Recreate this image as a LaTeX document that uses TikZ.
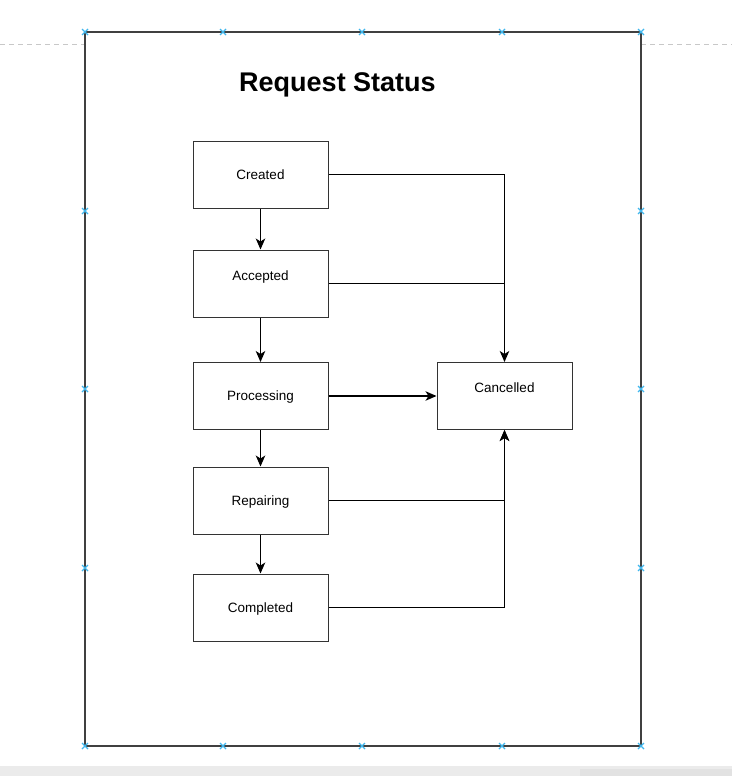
\documentclass[tikz,border=0pt]{standalone}
\usepackage{fontspec}
\setmainfont{Liberation Sans}
\usetikzlibrary{arrows.meta}
\definecolor{handle}{HTML}{3FB7EE}
\definecolor{dashgray}{HTML}{C8C8C8}
\definecolor{bargray}{HTML}{EBEBEB}
\definecolor{bargray2}{HTML}{E2E2E2}
\tikzset{
  box/.style={draw=black!80, line width=1pt, minimum width=135pt, minimum height=67pt,
    inner sep=0pt, font=\fontsize{13.5}{16}\selectfont, text height=9.7pt, text depth=0pt},
  boxhigh/.style={box, text depth=16.5pt},
  arr/.style={draw=black, line width=1.2pt, -{Stealth[length=11pt,width=9.5pt,inset=3pt]}},
  ln/.style={draw=black, line width=1.2pt},
}
\begin{document}
\begin{tikzpicture}[x=1pt,y=-1pt]
\useasboundingbox (0,0) rectangle (732,776);
\fill[white] (0,0) rectangle (732,776);
% background chrome
\draw[dashgray, line width=1pt, dash pattern=on 5pt off 4pt] (0,45) -- (85,45);
\draw[dashgray, line width=1pt, dash pattern=on 5pt off 4pt] (641,45) -- (732,45);
\fill[bargray] (0,766) rectangle (732,776);
\fill[bargray2] (580,769) rectangle (732,776);
% frame
\draw[black!75, line width=1.3pt] (85,32) rectangle (641,746);
% title
\node[anchor=base, font=\fontsize{27}{32}\selectfont\bfseries, inner sep=0pt] (title) at (337.5,92) {Request Status};
% boxes
\node[box] (created) at (260.5,174.5) {Created};
\node[boxhigh] (accepted) at (260.5,283.5) {Accepted};
\node[box] (processing) at (260.5,396) {Processing};
\node[box] (repairing) at (260.5,500.5) {Repairing};
\node[box] (completed) at (260.5,607.5) {Completed};
\node[boxhigh] (cancelled) at (504.5,396) {Cancelled};
% connectors
\draw[arr] (created.south) -- (accepted.north);
\draw[arr] (accepted.south) -- (processing.north);
\draw[arr] (processing.south) -- (repairing.north);
\draw[arr] (repairing.south) -- (completed.north);
\draw[arr] (created.east) -| (cancelled.north);
\draw[ln] (accepted.east) -- (accepted.east -| cancelled.north);
\draw[arr] (processing.east) -- (cancelled.west);
\draw[arr] (repairing.east) -| (cancelled.south);
\draw[arr] (completed.east) -| (cancelled.south);
% selection handles
\foreach \px/\py in {85/32,223/32,362/32,502/32,641/32,85/211,85/389,85/568,85/746,223/746,362/746,502/746,641/746,641/211,641/389,641/568}{
  \draw[handle, line width=1.3pt] (\px-3,\py-3) -- (\px+3,\py+3) (\px-3,\py+3) -- (\px+3,\py-3);
}
\end{tikzpicture}
\end{document}
